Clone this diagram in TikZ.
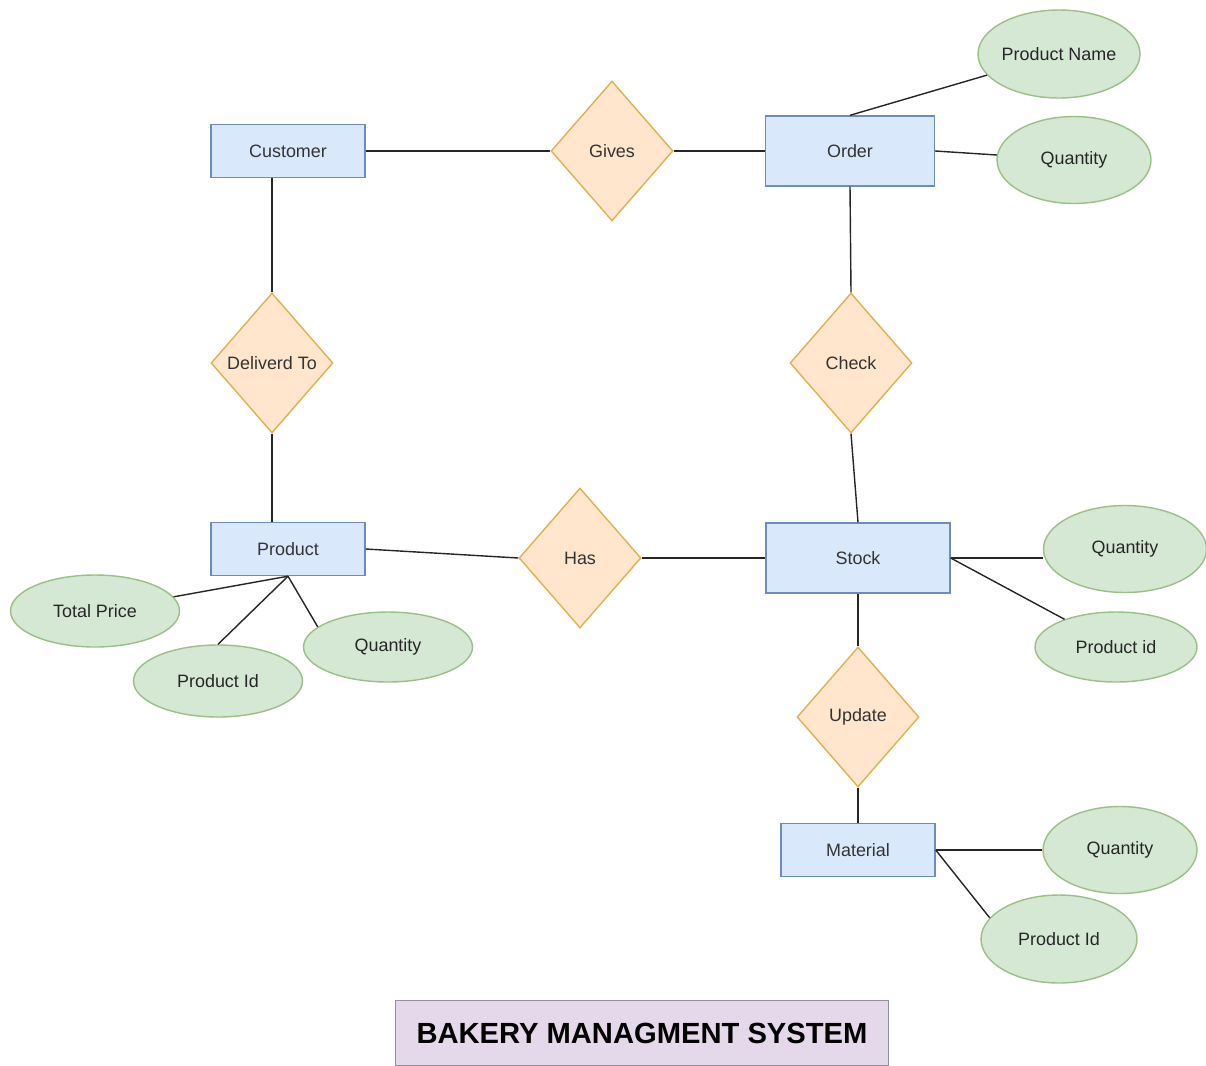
\documentclass[tikz,border=0pt]{standalone}
\usepackage{fontspec}
\setmainfont{Liberation Sans}
\usetikzlibrary{shapes.geometric}
\definecolor{entfill}{HTML}{DAE8FC}
\definecolor{entdraw}{HTML}{6C8EBF}
\definecolor{relfill}{HTML}{FFE6CC}
\definecolor{reldraw}{HTML}{E0B050}
\definecolor{attfill}{HTML}{D5E8D4}
\definecolor{attdraw}{HTML}{9CBF88}
\definecolor{titlefill}{HTML}{E4D8EA}
\definecolor{titledraw}{HTML}{9A8FA0}
\tikzset{
    entity/.style={
        rectangle,
        draw=entdraw,
        fill=entfill,
        line width=0.8pt,
        minimum width=3.08cm,
        minimum height=1.06cm,
        text=black!80,
        font=\fontsize{10.2}{12}\selectfont
    },
    relation/.style={
        diamond,
        draw=reldraw,
        fill=relfill,
        line width=0.8pt,
        inner sep=0pt,
        minimum width=2.44cm,
        minimum height=2.8cm,
        text=black!80,
        font=\fontsize{10.2}{12}\selectfont
    },
    attrib/.style={
        ellipse,
        draw=attdraw,
        fill=attfill,
        line width=0.8pt,
        inner sep=0pt,
        text=black!85,
        font=\fontsize{10.2}{12}\selectfont
    },
    link/.style={
        draw=black!85,
        line width=0.8pt
    }
}

\begin{document}
\begin{tikzpicture}[x=0.02cm,y=-0.02cm]
    \useasboundingbox (0,0) rectangle (1206,1065);

    % entities
    \node[entity]                                   (cust)  at (288,151) {Customer};
    \node[entity, minimum width=3.38cm, minimum height=1.4cm] (order) at (850,151) {Order};
    \node[entity]                                   (prod)  at (288,549) {Product};
    \node[entity, minimum width=3.68cm, minimum height=1.4cm] (stock) at (858,558) {Stock};
    \node[entity]                                   (mat)   at (858,850) {Material};

    % relations
    \node[relation] (gives)  at (612,151) {Gives};
    \node[relation] (dlv)    at (272,363) {Deliverd To};
    \node[relation] (check)  at (851,363) {Check};
    \node[relation] (has)    at (580,558) {Has};
    \node[relation] (update) at (858,717) {Update};

    % attributes
    \node[attrib, minimum width=3.12cm, minimum height=1.76cm] (pname) at (1059,54)  {Product Name};
    \node[attrib, minimum width=3.08cm, minimum height=1.74cm] (oqty)  at (1074,160) {Quantity};
    \node[attrib, minimum width=3.26cm, minimum height=1.74cm] (sqty)  at (1125,549) {Quantity};
    \node[attrib, minimum width=3.24cm, minimum height=1.40cm] (spid)  at (1116,647) {Product id};
    \node[attrib, minimum width=3.38cm, minimum height=1.44cm] (tprice) at (95,611)  {Total Price};
    \node[attrib, minimum width=3.38cm, minimum height=1.44cm] (ppid)  at (218,681)  {Product Id};
    \node[attrib, minimum width=3.38cm, minimum height=1.40cm] (pqty)  at (388,647)  {Quantity};
    \node[attrib, minimum width=3.08cm, minimum height=1.74cm] (mqty)  at (1120,850) {Quantity};
    \node[attrib, minimum width=3.12cm, minimum height=1.76cm] (mpid)  at (1059,939) {Product Id};

    % title
    \node[rectangle, draw=titledraw, fill=titlefill, line width=0.8pt,
          minimum width=9.86cm, minimum height=1.3cm,
          font=\fontsize{16.6}{19}\selectfont\bfseries] (title) at (642,1033) {BAKERY MANAGMENT SYSTEM};

    % connectors
    \draw[link] (cust.east) -- (gives.west);
    \draw[link] (gives.east) -- (order.west);
    \draw[link] (cust.south -| dlv.north) -- (dlv.north);
    \draw[link] (dlv.south) -- (dlv.south |- prod.north);
    \draw[link] (order.south) -- (check.north);
    \draw[link] (check.south) -- (stock.north);
    \draw[link] (prod.east) -- (has.west);
    \draw[link] (has.east) -- (stock.west);
    \draw[link] (stock.south) -- (update.north);
    \draw[link] (update.south) -- (mat.north);

    \draw[link] (order.north) -- (pname);
    \draw[link] (order.east) -- (oqty);
    \draw[link] (stock.east) -- (stock.east -| sqty.west);
    \draw[link] (stock.east) -- (spid);
    \draw[link] (prod.south) -- (tprice);
    \draw[link] (prod.south) -- (ppid.north);
    \draw[link] (prod.south) -- (pqty.164);
    \draw[link] (mat.east) -- (mqty.west);
    \draw[link] (mat.east) -- (mpid.163);
\end{tikzpicture}
\end{document}
